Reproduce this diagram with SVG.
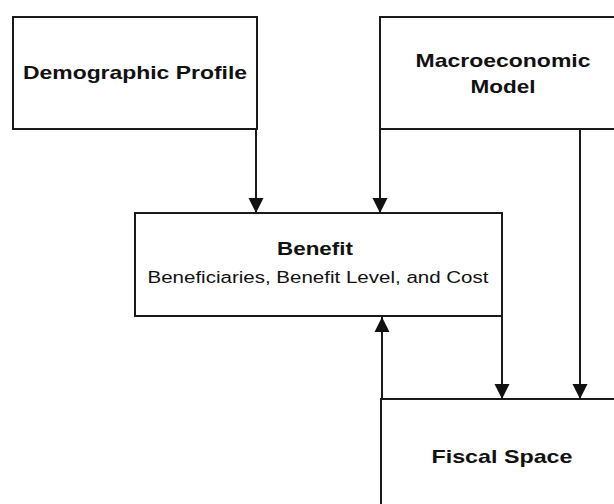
<svg xmlns="http://www.w3.org/2000/svg" width="614" height="504" viewBox="0 0 614 504">
  <style>
    .box { fill: #ffffff; stroke: #1a1a1a; stroke-width: 2; }
    .conn { fill: none; stroke: #1a1a1a; stroke-width: 2; }
    .bold { font-family: "Liberation Sans", Arial, sans-serif; font-weight: bold; font-size: 18.5px; fill: #111; }
    .reg { font-family: "Liberation Sans", Arial, sans-serif; font-size: 16px; fill: #111; }
  </style>
  <defs>
    <marker id="arrow" markerUnits="userSpaceOnUse" markerWidth="16" markerHeight="16" viewBox="0 -8 16 16" refX="15" refY="0" orient="auto">
      <path d="M0,-7.5 L15,0 L0,7.5 z" fill="#111"/>
    </marker>
  </defs>
  <rect width="614" height="504" fill="#ffffff"/>

  <g id="demographic">
    <rect class="box" x="13" y="17" width="244" height="112"/>
    <text class="bold" x="135" y="78.5" text-anchor="middle" textLength="224" lengthAdjust="spacingAndGlyphs">Demographic Profile</text>
  </g>

  <g id="macro">
    <rect class="box" x="380" y="17" width="250" height="112"/>
    <text class="bold" x="503" y="67" text-anchor="middle" textLength="175" lengthAdjust="spacingAndGlyphs">Macroeconomic</text>
    <text class="bold" x="503" y="92.5" text-anchor="middle" textLength="65" lengthAdjust="spacingAndGlyphs">Model</text>
  </g>

  <g id="benefit">
    <rect class="box" x="135" y="213" width="367" height="103"/>
    <text class="bold" x="315" y="255" text-anchor="middle" textLength="76" lengthAdjust="spacingAndGlyphs">Benefit</text>
    <text class="reg" x="318" y="283" text-anchor="middle" textLength="341" lengthAdjust="spacingAndGlyphs">Beneficiaries, Benefit Level, and Cost</text>
  </g>

  <g id="fiscal">
    <rect class="box" x="381" y="399" width="250" height="120"/>
    <text class="bold" x="502" y="462.5" text-anchor="middle" textLength="141" lengthAdjust="spacingAndGlyphs">Fiscal Space</text>
  </g>

  <g id="connectors">
    <line class="conn" x1="256" y1="129" x2="256" y2="213" marker-end="url(#arrow)"/>
    <line class="conn" x1="380" y1="129" x2="380" y2="213" marker-end="url(#arrow)"/>
    <line class="conn" x1="580" y1="129" x2="580" y2="399" marker-end="url(#arrow)"/>
    <line class="conn" x1="502" y1="316" x2="502" y2="399" marker-end="url(#arrow)"/>
    <line class="conn" x1="382" y1="399" x2="382" y2="317" marker-end="url(#arrow)"/>
  </g>
</svg>
